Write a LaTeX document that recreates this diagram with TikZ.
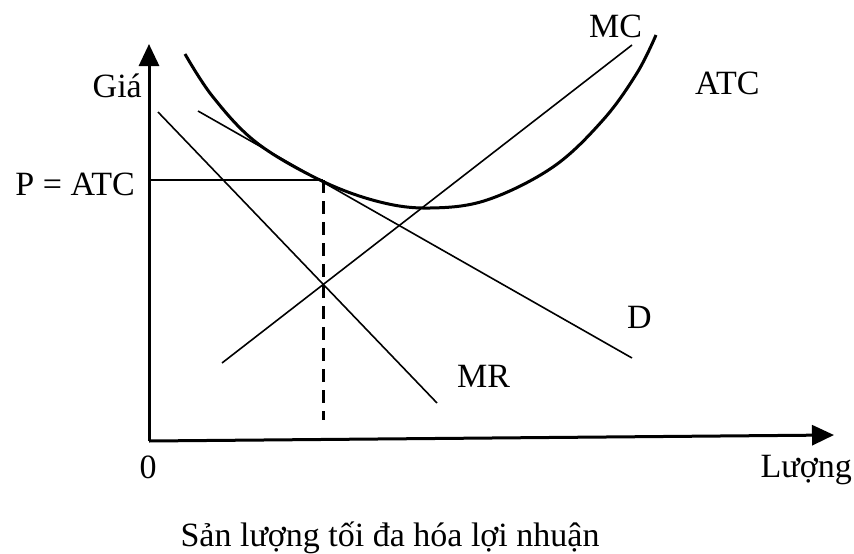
\documentclass[tikz,border=0pt]{standalone}
\usepackage{fontspec}
\setmainfont{Liberation Serif}
\usetikzlibrary{arrows.meta}
\begin{document}
\begin{tikzpicture}[x=1pt,y=-1pt,
  lbl/.style={inner sep=0pt,font=\fontsize{34}{40}\selectfont},
  axisline/.style={line width=3pt,-{Triangle[length=22pt,width=20pt]}},
  curveline/.style={line width=1.6pt},
  thickcurve/.style={line width=3pt},
  guideline/.style={line width=1.2pt},
  dashline/.style={line width=3pt,dash pattern=on 13pt off 8pt}]
\useasboundingbox (0,0) rectangle (854,554);
% named points
\coordinate (O) at (149,441);
\coordinate (Ytop) at (149,44);
\coordinate (Xend) at (834,435);
\coordinate (MRa) at (158,112);
\coordinate (MRb) at (437,403);
\coordinate (Da) at (198,111);
\coordinate (Db) at (632,358);
\coordinate (MCa) at (222,363);
\coordinate (MCb) at (632,45);
\coordinate (Pax) at (149,180);
\coordinate (E) at (323,180);
\coordinate (Qb) at (323,420);
% axes
\draw[axisline] (O) -- (Ytop);
\draw[axisline] (O) -- (Xend);
% lines
\draw[curveline] (MRa) -- (MRb);
\draw[curveline] (Da) -- (Db);
\draw[curveline] (MCa) -- (MCb);
\draw[guideline] (Pax) -- (E);
\draw[dashline] (E) -- (Qb);
% ATC curve
\draw[thickcurve] plot[smooth,tension=0.6] coordinates {(185,54) (213,97) (257,143) (322,181) (380,202) (430,208) (487,200) (553,167) (603,120) (637,73) (656,35)};
% labels
\node[lbl,anchor=base east] (gia) at (142,97) {Giá};
\node[lbl,anchor=base east] (patc) at (135,195) {P = ATC};
\node[lbl,anchor=base] (zero) at (148,478) {0};
\node[lbl,anchor=base east] (luong) at (852,477) {Lượng};
\node[lbl,anchor=base west] (mc) at (589,37) {MC};
\node[lbl,anchor=base west] (atc) at (695,94) {ATC};
\node[lbl,anchor=base west] (d) at (627,328) {D};
\node[lbl,anchor=base west] (mr) at (457,387) {MR};
\node[lbl,anchor=base] (cap) at (390,546) {Sản lượng tối đa hóa lợi nhuận};
\end{tikzpicture}
\end{document}
